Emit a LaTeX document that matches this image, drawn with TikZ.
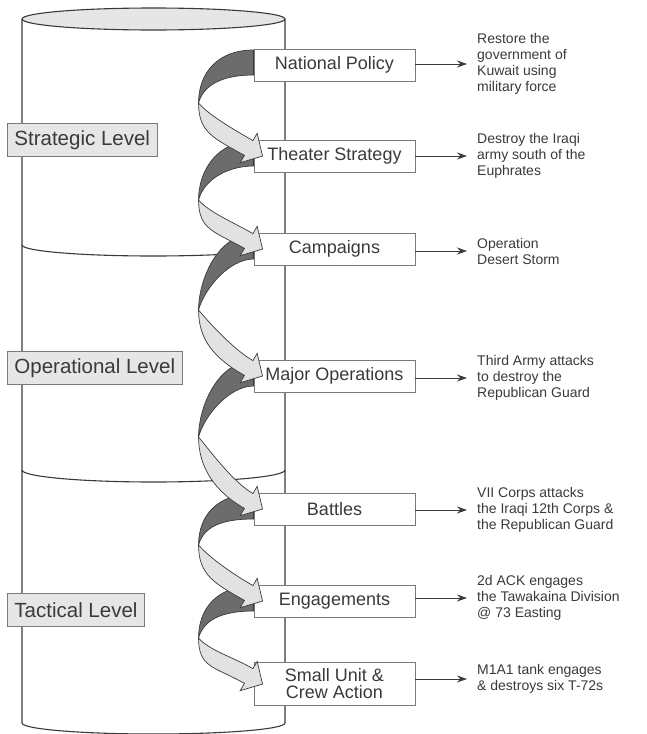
\documentclass[tikz,border=0pt]{standalone}
\usepackage{fontspec}
\setmainfont{Liberation Sans}
\usetikzlibrary{positioning,calc,arrows.meta}

\definecolor{inkgray}{HTML}{3A3A3A}
\definecolor{edgegray}{HTML}{7A7A7A}
\definecolor{shadegray}{HTML}{E6E6E6}
\definecolor{ribbondark}{HTML}{6C6C6C}
\definecolor{ribbonlight}{HTML}{E2E2E2}

\pgfdeclarelayer{back}
\pgfsetlayers{back,main}

\begin{document}
\begin{tikzpicture}[
  x=1pt, y=1pt,
  cyl/.style={draw=inkgray, line width=1.1pt},
  stagebox/.style={
    draw=edgegray,
    fill=white,
    line width=0.9pt,
    minimum width=161pt,
    minimum height=32pt,
    inner sep=0pt,
    align=center,
    text=inkgray,
    font=\fontsize{18}{17}\selectfont,
  },
  levelbox/.style={
    draw=edgegray,
    fill=shadegray,
    line width=0.9pt,
    minimum height=33pt,
    inner xsep=7pt,
    anchor=west,
    text=inkgray,
    font=\fontsize{20.5}{22}\selectfont,
  },
  goaltext/.style={
    anchor=west,
    align=left,
    inner sep=0pt,
    text=inkgray,
    font=\fontsize{14}{16}\selectfont,
  },
  goalarrow/.style={
    draw=inkgray,
    line width=1pt,
    -{Stealth[length=10pt,width=7pt]},
    shorten >=10pt,
  },
  backribbon/.style={fill=ribbondark, draw=inkgray, line width=0.7pt},
  frontribbon/.style={fill=ribbonlight, draw=inkgray, line width=0.7pt},
  ]
  \useasboundingbox (0,0) rectangle (646,-734);

  \node[stagebox] (policy)    at (334.5,-65)  {National Policy};
  \node[stagebox] (strategy)  at (334.5,-156) {Theater Strategy};
  \node[stagebox] (campaigns) at (334.5,-249) {Campaigns};
  \node[stagebox] (majorops)  at (334.5,-376) {Major Operations};
  \node[stagebox] (battles)   at (334.5,-509) {Battles};
  \node[stagebox] (engage)    at (334.5,-601) {Engagements};
  \node[stagebox,minimum height=43pt] (smallunit) at (334.5,-684)
  {Small Unit \&\\Crew Action};

  \node[levelbox] (strategic)   at (7,-140) {Strategic Level};
  \node[levelbox] (operational) at (7,-368) {Operational Level};
  \node[levelbox] (tactical)    at (7,-610) {Tactical Level};

  \node[goaltext] (policy-goal)    at (477,-64)
  {Restore the\\government of\\Kuwait using\\military force};
  \node[goaltext] (strategy-goal)  at (477,-156)
  {Destroy the Iraqi\\army south of the\\Euphrates};
  \node[goaltext] (campaigns-goal) at (477,-251)
  {Operation\\Desert Storm};
  \node[goaltext] (majorops-goal)  at (477,-378)
  {Third Army attacks\\to destroy the\\Republican Guard};
  \node[goaltext] (battles-goal)   at (477,-510)
  {VII Corps attacks\\the Iraqi 12th Corps \&\\the Republican Guard};
  \node[goaltext] (engage-goal)    at (477,-598)
  {2d ACK engages\\the Tawakaina Division\\@ 73 Easting};
  \node[goaltext] (smallunit-goal) at (477,-679)
  {M1A1 tank engages\\\& destroys six T-72s};

  \foreach \s in {policy,strategy,campaigns,majorops,battles,engage,smallunit}
    \draw[goalarrow] (\s-goal.west -| \s.east) -- (\s-goal.west);

  \begin{pgfonlayer}{back}
    % the cylinder
    \draw[cyl,fill=shadegray] (153.5,-19) ellipse[x radius=131.5,y radius=11];
    \draw[cyl] (22,-19) -- (22,-723)
      arc[start angle=180,end angle=360,x radius=131.5,y radius=11]
      -- (285,-19);
    \draw[cyl] (22,-245) arc[start angle=180,end angle=360,x radius=131.5,y radius=11];
    \draw[cyl] (22,-470) arc[start angle=180,end angle=360,x radius=131.5,y radius=12];

    % hidden half of each turn
    \foreach \a/\t in {policy/38,strategy/44,campaigns/61,majorops/61,battles/36,engage/37}{
      \coordinate (tw) at ($(\a.west)+(-55,-\t)$);
      \filldraw[backribbon] ($(\a.west)+(0,15)$)
        .. controls +(-36,0) and +(0,30) .. (tw)
        .. controls +(6,22) and +(-24,0) .. ($(\a.west)+(0,-10)$) -- cycle;
    }
  \end{pgfonlayer}

  % front half of each turn, ending in the arrow head
  \foreach \a/\b/\t in {policy/strategy/38,strategy/campaigns/44,campaigns/majorops/61,
      majorops/battles/61,battles/engage/36,engage/smallunit/37}{
    \coordinate (tw) at ($(\a.west)+(-55,-\t)$);
    \coordinate (tip) at ($(\b.west)+(9,0)$);
    \filldraw[frontribbon] (tw)
      .. controls +(10,-12) and +(-20,11.5) .. ($(tip)+(-9.6,15.4)$)
      -- ($(tip)+(-5.4,22.7)$) -- (tip) -- ($(tip)+(-22.4,-6.7)$)
      -- ($(tip)+(-18.1,0.6)$)
      .. controls +(-30,17) and +(0,-30) .. (tw) -- cycle;
  }
\end{tikzpicture}
\end{document}
